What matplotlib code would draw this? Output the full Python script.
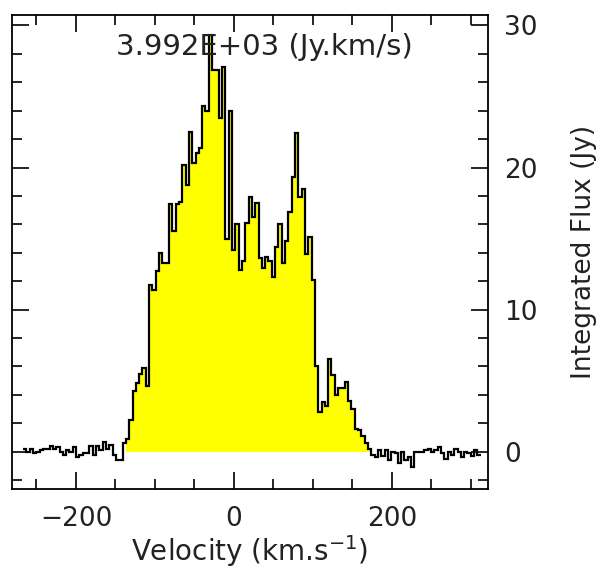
import matplotlib
matplotlib.use("Agg")
import matplotlib.pyplot as plt
from matplotlib.ticker import MultipleLocator
import numpy as np

# spectrum channels (km/s) and flux (Jy)
v_start = -267.0
channel_width = 4.2
flux = [
    0.2, 0.0, 0.2, -0.1, 0.0, 0.1, 0.2, 0.2, 0.4, 0.2,
    0.3, 0.0, -0.2, 0.1, 0.0, 0.3, -0.4, -0.2, -0.1, -0.1,
    0.4, -0.2, 0.4, 0.1, 0.7, 0.2, 0.5, -0.2, -0.6, -0.6,
    0.6, 0.9, 2.2, 4.3, 4.8, 5.5, 5.9, 4.6,
    11.7, 11.4, 12.7, 14.0, 13.3, 13.3, 17.4, 15.5, 17.4, 17.6,
    20.2, 18.8, 22.5, 20.3, 21.0, 21.4, 24.3, 24.0, 29.3, 26.9,
    26.9, 23.5, 27.1, 15.0, 24.0,
    14.2, 16.0, 12.8, 13.4, 16.1, 17.9, 16.5, 17.5, 13.6, 12.9,
    13.7, 13.4, 12.3, 14.4, 16.0, 13.3, 14.8, 16.9, 19.3, 22.4,
    17.9, 18.5, 13.9, 15.1, 12.1,
    6.0, 2.8, 3.5, 3.2, 6.5, 5.4, 4.0, 4.5, 4.5, 4.9,
    3.6, 3.0, 1.6, 1.5, 1.1, 0.6, 0.2, -0.2, -0.4, 0.1,
    -0.3, 0.1, -0.6, 0.0, -0.1, -0.8, 0.0, -0.6, -0.4, -1.1,
    0.0, 0.0, 0.0, 0.1, 0.2, 0.0, 0.1, 0.3, -0.1, -0.5,
    0.0, -0.2, 0.2, 0.0, -0.4, 0.0, -0.1, -0.3, 0.1, -0.2,
]
line_window = (-137.0, 172.0)
integrated = "3.992E+03 (Jy.km/s)"

flux = np.array(flux)
edges = v_start + channel_width * np.arange(len(flux) + 1)
centers = 0.5 * (edges[:-1] + edges[1:])
in_line = (centers > line_window[0]) & (centers < line_window[1])
fill_flux = np.where(in_line, np.clip(flux, 0, None), 0.0)

plt.rcParams["font.family"] = "DejaVu Sans"
fig = plt.figure(figsize=(6.03, 5.70), dpi=100)
ax = fig.add_axes([0.0199, 0.142, 0.789, 0.832])

ax.stairs(fill_flux, edges, fill=True, color="#ffff00", linewidth=0)
ax.stairs(flux, edges, baseline=None, color="black", linewidth=1.6)

ax.set_xlim(-281, 321.5)
ax.set_ylim(-2.63, 30.75)

ax.xaxis.set_major_locator(MultipleLocator(200))
ax.xaxis.set_minor_locator(MultipleLocator(50))
ax.yaxis.set_major_locator(MultipleLocator(10))
ax.yaxis.set_minor_locator(MultipleLocator(2))

ax.tick_params(which="both", direction="in", top=True, bottom=True,
               left=True, right=True, labelleft=False, labelright=True,
               width=1.2, labelsize=19, labelcolor="#222222")
ax.tick_params(which="major", length=12)
ax.tick_params(which="minor", length=7)
ax.tick_params(axis="x", pad=12)
ax.tick_params(axis="y", pad=12)
for s in ax.spines.values():
    s.set_linewidth(1.3)

ax.set_xlabel("Velocity (km.s$^{-1}$)", fontsize=20, labelpad=1,
              color="#222222")
ax.yaxis.set_label_position("right")
ax.set_ylabel("Integrated Flux (Jy)", fontsize=19, color="#222222")
ax.yaxis.set_label_coords(1.175, 0.5)

ax.text(0.53, 0.932, integrated, transform=ax.transAxes,
        ha="center", va="center", fontsize=21, color="#222222")

fig.savefig("out.png", dpi=100)
